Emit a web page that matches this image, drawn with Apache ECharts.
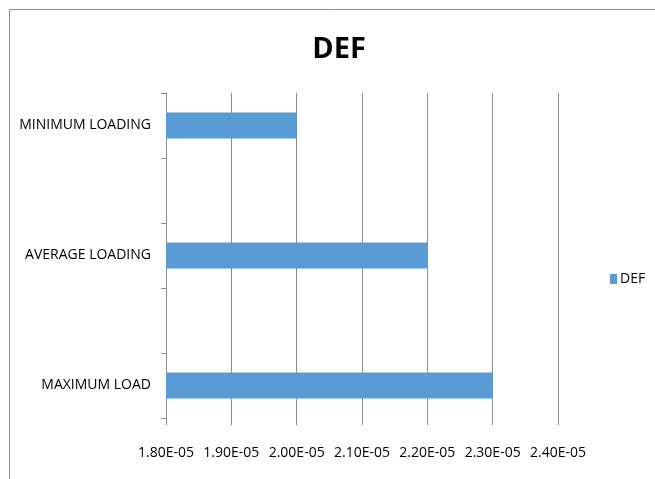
<!DOCTYPE html>
<html>
<head>
<meta charset="utf-8">
<script src="https://cdn.jsdelivr.net/npm/echarts@6/dist/echarts.min.js"></script>
<style>
html,body{margin:0;padding:0;background:#fff;}
#c{width:655px;height:479px;}
</style>
</head>
<body>
<div id="c"></div>
<script>
var categories = ['MAXIMUM LOAD', '', 'AVERAGE LOADING', '', 'MINIMUM LOADING'];
var defValues = [2.30e-5, null, 2.20e-5, null, 2.00e-5];
var xTickLabels = ['1.80E-05', '1.90E-05', '2.00E-05', '2.10E-05', '2.20E-05', '2.30E-05', '2.40E-05'];
var seriesName = 'DEF';
var chartTitle = 'DEF';

var FONT = "'Liberation Sans Narrow', 'Open Sans', sans-serif";
var chart = echarts.init(document.getElementById('c'));
chart.setOption({
  animation: false,
  backgroundColor: '#fff',
  graphic: [{
    type: 'rect', silent: true, z: -10,
    shape: { x: 9.5, y: 9.5, width: 700, height: 500 },
    style: { fill: 'none', stroke: '#8c8c8c', lineWidth: 1 }
  }],
  title: {
    text: chartTitle, left: 334, top: 30, textAlign: 'center',
    textStyle: { fontFamily: FONT, fontWeight: 'bold', fontSize: 29, color: '#000' }
  },
  legend: {
    data: [seriesName], orient: 'vertical', left: 605, top: 267,
    icon: 'rect', itemWidth: 7, itemHeight: 10, itemGap: 4,
    textStyle: { fontFamily: FONT, fontSize: 14, color: '#000', padding: [0,0,0,-2] }
  },
  grid: { left: 166, right: 97, top: 93, bottom: 61, containLabel: false },
  xAxis: {
    type: 'value', min: 1.8e-5, max: 2.4e-5, interval: 0.1e-5,
    axisLine: { show: false },
    axisTick: { show: true, length: 7, lineStyle: { color: '#8c8c8c' } },
    splitLine: { show: true, lineStyle: { color: '#8c8c8c', width: 1 } },
    axisLabel: {
      margin: 28, fontFamily: FONT, fontSize: 14, color: '#000',
      formatter: function (v) {
        var i = Math.round((v - 1.8e-5) / 0.1e-5);
        return xTickLabels[i] !== undefined ? xTickLabels[i] : '';
      }
    }
  },
  yAxis: {
    type: 'category', data: categories,
    axisLine: { show: true, lineStyle: { color: '#8c8c8c' } },
    axisTick: { show: true, length: 5, lineStyle: { color: '#8c8c8c' } },
    axisLabel: { margin: 15, fontFamily: FONT, fontSize: 14, color: '#000' }
  },
  series: [{
    name: seriesName, type: 'bar', data: defValues,
    barWidth: 26,
    itemStyle: { color: '#5B9BD5' }
  }]
});
</script>
</body>
</html>
